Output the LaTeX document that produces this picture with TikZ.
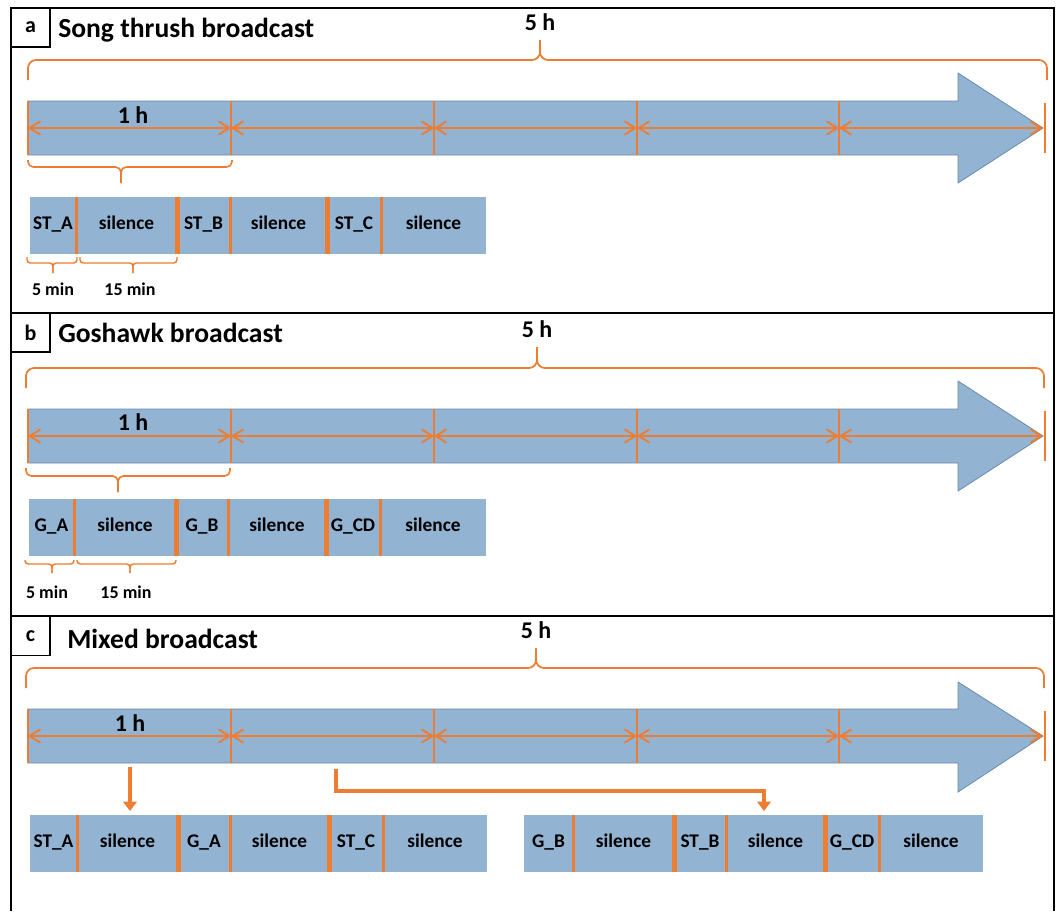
\documentclass[tikz,border=0pt]{standalone}
\usepackage{fontspec}
\setmainfont{Carlito}
\usetikzlibrary{arrows.meta}
\definecolor{segblue}{HTML}{93B3D3}
\definecolor{arrowedge}{HTML}{6A8BAE}
\definecolor{orng}{HTML}{ED7D31}

\newcommand\timeline[5]{%
  \pgfmathsetmacro\tlmid{(#2+#3)/2}%
  \draw[bigarrow] (28,#2) -- (958,#2) -- (958,#4) -- (1043,\tlmid) -- (958,#5) -- (958,#3) -- (28,#3) -- cycle;
  \foreach \i/\x in {0/28,1/231,2/434,3/637,4/839} {\coordinate (#1-d\i) at (\x,\tlmid); \draw[divider] (\x,#2) -- (\x,#3);}
  \coordinate (#1-d5) at (1043,\tlmid);
  \draw[divider] (1045,#2+2) -- (1045,#3-2);
  \foreach \i/\j in {0/1,1/2,2/3,3/4,4/5} {\draw[dim] (#1-d\i) -- (#1-d\j);}
}
\newcommand\hbrace[7]{%
  \draw[#1] (#2,#5) -- (#2,#6) -- (#4,#6) -- (#4,#7);
  \draw[#1] (#3,#5) -- (#3,#6) -- (#4,#6) -- (#4,#7);
}
\newcommand\seg[6]{%
  \pgfmathsetmacro\segw{(#3-#2)*0.75}%
  \pgfmathsetmacro\segh{(#5-#4)*0.75}%
  \node[segbox, minimum width=\segw pt, minimum height=\segh pt] (#1) at ({(#2+#3)/2},{(#4+#5)/2}) {#6};
}

\begin{document}
\begin{tikzpicture}[x=0.75pt,y=-0.75pt,
  frame/.style={draw=black, line width=1.1pt},
  letterbox/.style={draw=black, line width=1.1pt, minimum width=29pt, minimum height=29pt, inner sep=0, font=\fontsize{16.5}{18}\selectfont\bfseries},
  title/.style={anchor=base west, inner sep=0, font=\fontsize{20.7}{24}\selectfont\bfseries},
  hlabel/.style={anchor=base, inner sep=0, font=\fontsize{18}{20}\selectfont\bfseries},
  minlabel/.style={anchor=base, inner sep=0, font=\fontsize{13.5}{16}\selectfont\bfseries},
  segbox/.style={fill=segblue, inner sep=0, font=\fontsize{14.5}{16}\selectfont\bfseries, text height=0.64em, text depth=0pt},
  bigarrow/.style={fill=segblue, draw=arrowedge, line width=0.6pt},
  divider/.style={draw=orng, line width=1pt},
  dim/.style={draw=orng, line width=1.4pt, {Straight Barb[length=8pt,width=10pt]}-{Straight Barb[length=8pt,width=10pt]}},
  bracestyle/.style={draw=orng, line width=1.3pt, rounded corners=6pt},
  midbrace/.style={draw=orng, line width=1.2pt, rounded corners=4pt},
  smallbrace/.style={draw=orng, line width=1.1pt, rounded corners=2.5pt},
  septhin/.style={draw=orng, line width=2pt},
  septhick/.style={draw=orng, line width=4pt},
  flow/.style={draw=orng, line width=2.5pt, -{Triangle[length=7pt,width=10pt]}}
]
\useasboundingbox (0,0) rectangle (1059,911);

% frame
\draw[frame] (11,911) -- (11,8) -- (1054,8) -- (1054,911);
\draw[frame] (11,313) -- (1054,313);
\draw[frame] (11,616) -- (1054,616);

% ---------------- panel a
\node[letterbox] (a-letter) at (30.5,27.5) {a};
\node[title] (a-title) at (58,37) {Song thrush broadcast};
\hbrace{bracestyle}{28}{1047}{540}{80}{60}{40}
\node[hlabel] (a-5h) at (540,30) {5 h};
\timeline{a}{101}{155}{73}{183}
\node[hlabel] (a-1h) at (133,123) {1 h};
\hbrace{midbrace}{28}{232}{121}{160}{167}{183}
\seg{a-s1}{30}{76}{197}{254}{ST\_A}
\seg{a-s2}{76}{177}{197}{254}{silence}
\seg{a-s3}{177}{230}{197}{254}{ST\_B}
\seg{a-s4}{230}{327}{197}{254}{silence}
\seg{a-s5}{327}{381}{197}{254}{ST\_C}
\seg{a-s6}{381}{486}{197}{254}{silence}
\draw[septhin] (a-s1.north east) -- (a-s1.south east);
\draw[septhick] (a-s2.north east) -- (a-s2.south east);
\draw[septhin] (a-s3.north east) -- (a-s3.south east);
\draw[septhick] (a-s4.north east) -- (a-s4.south east);
\draw[septhin] (a-s5.north east) -- (a-s5.south east);
\hbrace{smallbrace}{27}{77}{53}{257}{263}{273}
\hbrace{smallbrace}{80}{177}{133}{257}{263}{273}
\node[minlabel] (a-5min) at (53,295) {5 min};
\node[minlabel] (a-15min) at (130,295) {15 min};

% ---------------- panel b
\node[letterbox] (b-letter) at (30.5,332.5) {b};
\node[title] (b-title) at (58,342) {Goshawk broadcast};
\hbrace{bracestyle}{26}{1044}{537}{388}{368}{347}
\node[hlabel] (b-5h) at (537,337) {5 h};
\timeline{b}{409}{463}{381}{491}
\node[hlabel] (b-1h) at (133,430) {1 h};
\hbrace{midbrace}{26}{230}{118}{468}{476}{492}
\seg{b-s1}{29}{74}{499}{556}{G\_A}
\seg{b-s2}{74}{176}{499}{556}{silence}
\seg{b-s3}{176}{228}{499}{556}{G\_B}
\seg{b-s4}{228}{326}{499}{556}{silence}
\seg{b-s5}{326}{380}{499}{556}{G\_CD}
\seg{b-s6}{380}{486}{499}{556}{silence}
\draw[septhin] (b-s1.north east) -- (b-s1.south east);
\draw[septhick] (b-s2.north east) -- (b-s2.south east);
\draw[septhin] (b-s3.north east) -- (b-s3.south east);
\draw[septhick] (b-s4.north east) -- (b-s4.south east);
\draw[septhin] (b-s5.north east) -- (b-s5.south east);
\hbrace{smallbrace}{25}{74}{52}{560}{564}{573}
\hbrace{smallbrace}{77}{176}{130}{560}{564}{573}
\node[minlabel] (b-5min) at (47,598) {5 min};
\node[minlabel] (b-15min) at (126,598) {15 min};

% ---------------- panel c
\node[letterbox] (c-letter) at (30.5,636) {c};
\node[title] (c-title) at (67,648) {Mixed broadcast};
\hbrace{bracestyle}{26}{1044}{536}{688}{668}{648}
\node[hlabel] (c-5h) at (536,638) {5 h};
\timeline{c}{709}{763}{682}{792}
\node[hlabel] (c-1h) at (130,731) {1 h};
\seg{c-s1}{30}{77}{815}{872}{ST\_A}
\seg{c-s2}{77}{178}{815}{872}{silence}
\seg{c-s3}{178}{230}{815}{872}{G\_A}
\seg{c-s4}{230}{329}{815}{872}{silence}
\seg{c-s5}{329}{383}{815}{872}{ST\_C}
\seg{c-s6}{383}{487}{815}{872}{silence}
\draw[septhin] (c-s1.north east) -- (c-s1.south east);
\draw[septhick] (c-s2.north east) -- (c-s2.south east);
\draw[septhin] (c-s3.north east) -- (c-s3.south east);
\draw[septhick] (c-s4.north east) -- (c-s4.south east);
\draw[septhin] (c-s5.north east) -- (c-s5.south east);
\seg{c-t1}{524}{573}{815}{872}{G\_B}
\seg{c-t2}{573}{674}{815}{872}{silence}
\seg{c-t3}{674}{726}{815}{872}{ST\_B}
\seg{c-t4}{726}{825}{815}{872}{silence}
\seg{c-t5}{825}{879}{815}{872}{G\_CD}
\seg{c-t6}{879}{983}{815}{872}{silence}
\draw[septhin] (c-t1.north east) -- (c-t1.south east);
\draw[septhick] (c-t2.north east) -- (c-t2.south east);
\draw[septhin] (c-t3.north east) -- (c-t3.south east);
\draw[septhick] (c-t4.north east) -- (c-t4.south east);
\draw[septhin] (c-t5.north east) -- (c-t5.south east);
\coordinate (c-from1) at (130,767);
\coordinate (c-to1) at (130,811);
\draw[flow] (c-from1) -- (c-to1);
\coordinate (c-from2) at (336,769);
\coordinate (c-bend) at (336,791);
\coordinate (c-to2) at (764,811);
\draw[flow] (c-from2) -- (c-bend) -| (c-to2);
\end{tikzpicture}
\end{document}
